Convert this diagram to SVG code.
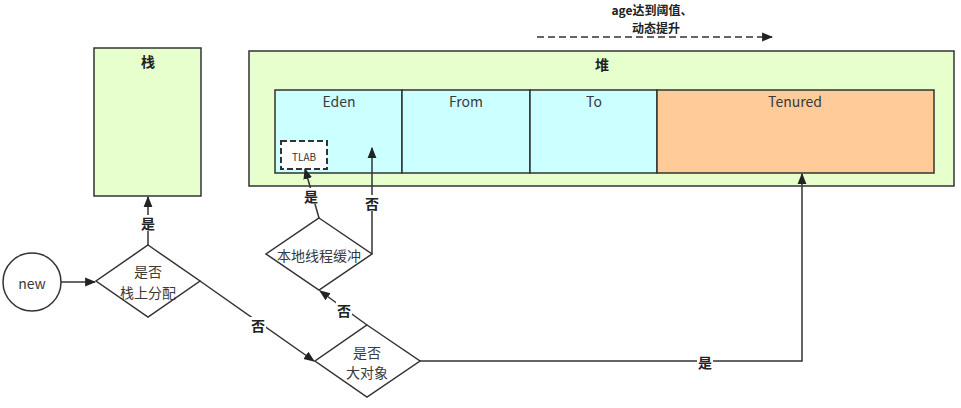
<svg xmlns="http://www.w3.org/2000/svg" width="961" height="408" viewBox="0 0 961 408">
<defs>
<style>
.t{font-family:"Noto Sans CJK SC","Noto Sans",sans-serif;fill:#333;text-anchor:middle;dominant-baseline:central}
.lbl{font-size:14px;fill:#3a3a3a}
.b{font-weight:bold;font-size:14px;fill:#222}
.top{font-family:"Noto Sans CJK SC","Noto Sans",sans-serif;font-weight:bold;font-size:12px;fill:#222;text-anchor:middle}
.box{stroke:#333;stroke-width:1.5}
.dia{fill:#fff;stroke:#333;stroke-width:1.5}
.edge{fill:none;stroke:#333;stroke-width:1.5}
.elbl{fill:#fff}
</style>
<marker id="ah" viewBox="0 0 10 10" refX="9" refY="5" markerWidth="11" markerHeight="11" markerUnits="userSpaceOnUse" orient="auto">
<path d="M0,1 L10,5 L0,9 Z" fill="#222"/>
</marker>
</defs>
<rect width="961" height="408" fill="#fff"/>

<g id="stack">
<rect class="box" x="94" y="48" width="107" height="148" fill="#E6FFCC"/>
<text class="t b" x="148" y="61">栈</text>
</g>

<g id="heap">
<rect class="box" x="249" y="51" width="705" height="135" fill="#E6FFCC"/>
<text class="t b" x="602" y="64">堆</text>
</g>
<g id="eden">
<rect class="box" x="275" y="90" width="127" height="83" fill="#CCFFFF"/>
<text class="t lbl" x="339" y="101">Eden</text>
</g>
<g id="from">
<rect class="box" x="402" y="90" width="128" height="83" fill="#CCFFFF"/>
<text class="t lbl" x="466" y="101">From</text>
</g>
<g id="to">
<rect class="box" x="530" y="90" width="127" height="83" fill="#CCFFFF"/>
<text class="t lbl" x="594" y="101">To</text>
</g>
<g id="tenured">
<rect class="box" x="657" y="90" width="277" height="83" fill="#FFCC99"/>
<text class="t lbl" x="795" y="101">Tenured</text>
</g>
<g id="tlab">
<rect x="281" y="141" width="46" height="28" fill="#fff" stroke="#333" stroke-width="2" stroke-dasharray="6 3"/>
<text class="t" x="304" y="156" font-size="10">TLAB</text>
</g>

<g id="new">
<circle cx="32" cy="282" r="29" fill="#fff" stroke="#333" stroke-width="1.5"/>
<text class="t lbl" x="32" y="283">new</text>
</g>
<g id="d1">
<polygon class="dia" points="148,245 200,281 148,317 96,281"/>
<text class="t lbl" x="148" y="271">是否</text>
<text class="t lbl" x="148" y="292">栈上分配</text>
</g>
<g id="d2">
<polygon class="dia" points="367,325 420,361 367,397 315,361"/>
<text class="t lbl" x="367" y="352">是否</text>
<text class="t lbl" x="367" y="372">大对象</text>
</g>
<g id="d3">
<polygon class="dia" points="319,218 372,254 319,290 266,254"/>
<text class="t lbl" x="319" y="255">本地线程缓冲</text>
</g>

<g id="connectors">
<path class="edge" d="M61,282 L95,282" marker-end="url(#ah)"/>
<path class="edge" d="M148,245 L148,197" marker-end="url(#ah)"/>
<rect class="elbl" x="140" y="215" width="16" height="16"/>
<text class="t b" x="148" y="223">是</text>

<path class="edge" d="M200,281 L314,361" marker-end="url(#ah)"/>
<rect class="elbl" x="250" y="317" width="16" height="16"/>
<text class="t b" x="258" y="325">否</text>

<path class="edge" d="M420,361 L802,361 L802,174" marker-end="url(#ah)"/>
<rect class="elbl" x="697" y="354" width="16" height="16"/>
<text class="t b" x="705" y="362">是</text>

<path class="edge" d="M367,325 L320,291" marker-end="url(#ah)"/>
<rect class="elbl" x="336" y="302" width="16" height="16"/>
<text class="t b" x="344" y="310">否</text>

<path class="edge" d="M319,218 L305,169" marker-end="url(#ah)"/>
<rect class="elbl" x="303" y="188" width="16" height="16"/>
<text class="t b" x="311" y="196">是</text>

<path class="edge" d="M372,254 L372,148" marker-end="url(#ah)"/>
<rect class="elbl" x="364" y="195" width="16" height="16"/>
<text class="t b" x="372" y="203">否</text>

<path class="edge" d="M537,37 L772,37" stroke-dasharray="7 4" marker-end="url(#ah)"/>
<text class="top" x="652" y="15">age达到阈值、</text>
<text class="top" x="656" y="33">动态提升</text>
</g>
</svg>
